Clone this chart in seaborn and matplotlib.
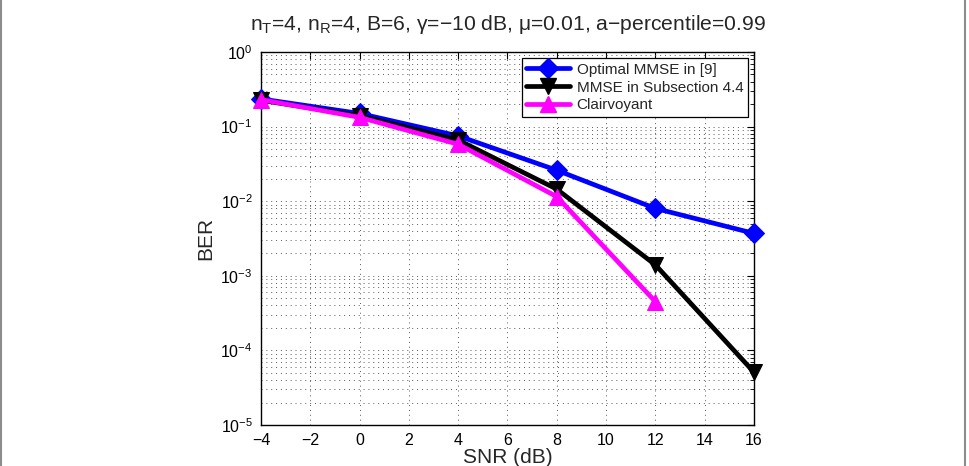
import matplotlib
matplotlib.use("Agg")
import matplotlib.pyplot as plt
import matplotlib.ticker as mticker
from matplotlib.lines import Line2D
import seaborn as sns
import pandas as pd
import numpy as np

snr = [-4, 0, 4, 8, 12, 16]
snr_clair = [-4, 0, 4, 8, 12]
ber_optimal = [0.235, 0.15, 0.075, 0.026, 0.0080, 0.0037]
ber_subsec = [0.225, 0.14, 0.066, 0.0145, 0.0014, 0.000051]
ber_clair = [0.23, 0.133, 0.058, 0.0115, 0.00045]
labels = ["Optimal MMSE in [9]", "MMSE in Subsection 4.4", "Clairvoyant"]
x_ticks = [-4, -2, 0, 2, 4, 6, 8, 10, 12, 14, 16]

sns.set_style("white")
plt.rcParams['font.family'] = ['Liberation Sans', 'DejaVu Sans']
plt.rcParams['mathtext.fontset'] = 'custom'
plt.rcParams['mathtext.rm'] = 'Liberation Sans'
plt.rcParams['mathtext.it'] = 'Liberation Sans:italic'
plt.rcParams['mathtext.bf'] = 'Liberation Sans:bold'

fig = plt.figure(figsize=(9.7, 4.66), dpi=100)
ax = fig.add_axes([261/970, 41/466, 493/970, 373/466])

df1 = pd.DataFrame({"SNR": snr, "BER": ber_optimal})
df2 = pd.DataFrame({"SNR": snr, "BER": ber_subsec})
df3 = pd.DataFrame({"SNR": snr_clair, "BER": ber_clair})

specs = [(df1, "#0000ff", "D", 10), (df2, "#000000", "v", 11), (df3, "#ff00ff", "^", 11)]
for (df, c, m, ms), lab in zip(specs, labels):
    sns.lineplot(data=df, x="SNR", y="BER", ax=ax, color=c, marker=m, markersize=ms,
                 markeredgecolor=c, linewidth=3.4, label=lab, legend=False, clip_on=False, zorder=3)

ax.set_yscale("log")
ax.set_xlim(-4, 16)
ax.set_ylim(1e-5, 1)
ax.set_xticks(x_ticks)
ax.set_xticklabels([str(v).replace('-', '\u2212') for v in x_ticks])
ax.yaxis.set_major_locator(mticker.LogLocator(base=10, numticks=10))
ax.yaxis.set_minor_locator(mticker.LogLocator(base=10, subs=np.arange(2, 10), numticks=20))
ax.yaxis.set_minor_formatter(mticker.NullFormatter())

ax.grid(True, which="major", axis="both", linestyle=(0, (1, 4)), color="0.35", linewidth=0.7)
ax.grid(True, which="minor", axis="y", linestyle=(0, (1, 4)), color="0.35", linewidth=0.7)

ax.tick_params(which="both", direction="in", top=True, right=True, labelsize=11.5, colors="black")
ax.tick_params(which="major", length=5, width=0.8, pad=6)
ax.tick_params(which="minor", length=3, width=0.6)
for s in ax.spines.values():
    s.set_color("black")
    s.set_linewidth(1.0)

ax.set_xlabel("SNR (dB)", fontsize=15, labelpad=0)
ax.set_ylabel("BER", fontsize=15, labelpad=4)
ax.set_title("n$_\\mathrm{T}$=4, n$_\\mathrm{R}$=4, B=6, \u03b3=\u221210 dB, \u03bc=0.01, a\u2212percentile=0.99",
             fontsize=15.2, pad=16)

handles = [Line2D([], [], color=c, marker=m, markersize=ms, linewidth=3.4) for (_, c, m, ms) in specs]
leg = ax.legend(handles, labels, loc="upper right", fontsize=11, numpoints=1, handlelength=2.9,
                frameon=True, fancybox=False, edgecolor="black", framealpha=1,
                borderaxespad=0.4, borderpad=0.3, labelspacing=0.25, handletextpad=0.4)
leg.get_frame().set_linewidth(0.9)
leg.set_zorder(5)

fig.add_artist(Line2D([1.5/970, 1.5/970], [0, 1], color="0.55", linewidth=1.5, transform=fig.transFigure))
fig.add_artist(Line2D([965/970, 965/970], [0, 1], color="0.55", linewidth=1.5, transform=fig.transFigure))

fig.savefig("out.png", dpi=100)
